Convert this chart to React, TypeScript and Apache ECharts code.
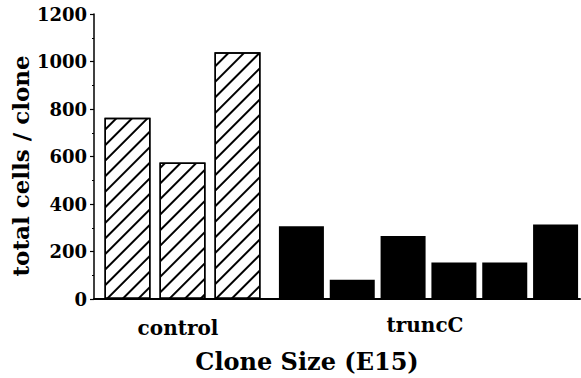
import React, { useEffect, useRef } from "react";
import * as echarts from "echarts";

const controlLabels = ["c1", "c2", "c3"];
const controlValues = [763, 575, 1039];
const truncLabels = ["t1", "t2", "t3", "t4", "t5", "t6"];
const truncValues = [306, 81, 265, 154, 154, 314];
const yTicks = { min: 0, max: 1200, interval: 200 };
const groupNames = ["control", "truncC"];
const xTitle = "Clone Size (E15)";
const yTitle = "total cells / clone";

const FONT = "DejaVu Serif";

export default function App() {
  const ref = useRef<HTMLDivElement>(null);
  useEffect(() => {
    if (!ref.current) return;
    const chart = echarts.init(ref.current, null, { renderer: "svg" });
    const top = 14;
    const height = 285;
    const hiddenY = (gridIndex: number) => ({
      type: "value",
      gridIndex,
      min: yTicks.min,
      max: yTicks.max,
      show: false,
    });
    chart.setOption({
      animation: false,
      backgroundColor: "#fff",
      grid: [
        { left: 94, top, width: 486, height },
        { left: 100, top, width: 165, height },
        { left: 276, top, width: 307, height },
      ],
      xAxis: [
        {
          type: "value",
          gridIndex: 0,
          min: 0,
          max: 1,
          axisLine: { show: true, lineStyle: { color: "#000", width: 2 } },
          axisTick: { show: false },
          axisLabel: { show: false },
          splitLine: { show: false },
        },
        { type: "category", gridIndex: 1, data: controlLabels, show: false },
        { type: "category", gridIndex: 2, data: truncLabels, show: false },
      ],
      yAxis: [
        {
          type: "value",
          gridIndex: 0,
          min: yTicks.min,
          max: yTicks.max,
          interval: yTicks.interval,
          axisLine: { show: true, lineStyle: { color: "#000", width: 1.5 } },
          axisTick: { show: true, length: 4, lineStyle: { color: "#000", width: 1.2 } },
          minorTick: { show: true, splitNumber: 2, length: 2, lineStyle: { color: "#000", width: 1.2 } },
          axisLabel: {
            margin: 7,
            color: "#000",
            fontFamily: FONT,
            fontWeight: "bold",
            fontSize: 18,
            formatter: (v: number) => String(v),
          },
          splitLine: { show: false },
        },
        hiddenY(1),
        hiddenY(2),
      ],
      series: [
        {
          type: "bar",
          xAxisIndex: 1,
          yAxisIndex: 1,
          data: controlValues,
          barWidth: 46,
          itemStyle: {
            color: "#fff",
            borderColor: "#000",
            borderWidth: 1.5,
            decal: {
              symbol: "rect",
              symbolSize: 1,
              dashArrayX: [1, 0],
              dashArrayY: [1.5, 9],
              rotation: -Math.PI / 4,
              color: "#000",
              backgroundColor: "#fff",
            },
          },
        },
        {
          type: "bar",
          xAxisIndex: 2,
          yAxisIndex: 2,
          data: truncValues,
          barWidth: 45,
          itemStyle: { color: "#000" },
        },
      ],
      graphic: [
        {
          type: "text",
          x: 20,
          y: 166,
          rotation: Math.PI / 2,
          style: {
            text: yTitle,
            fontFamily: FONT,
            fontWeight: "bold",
            fontSize: 23,
            fill: "#000",
            align: "center",
            verticalAlign: "middle",
          },
        },
        {
          type: "text",
          x: 178,
          y: 328,
          style: {
            text: groupNames[0],
            fontFamily: FONT,
            fontWeight: "bold",
            fontSize: 20,
            fill: "#000",
            align: "center",
            verticalAlign: "middle",
          },
        },
        {
          type: "text",
          x: 425,
          y: 325,
          style: {
            text: groupNames[1],
            fontFamily: FONT,
            fontWeight: "bold",
            fontSize: 20,
            fill: "#000",
            align: "center",
            verticalAlign: "middle",
          },
        },
        {
          type: "text",
          x: 307,
          y: 361,
          style: {
            text: xTitle,
            fontFamily: FONT,
            fontWeight: "bold",
            fontSize: 24,
            fill: "#000",
            align: "center",
            verticalAlign: "middle",
          },
        },
      ],
    });
    return () => chart.dispose();
  }, []);
  return (
    <div
      ref={ref}
      style={{ position: "fixed", left: 0, top: 0, width: 581, height: 378 }}
    />
  );
}
